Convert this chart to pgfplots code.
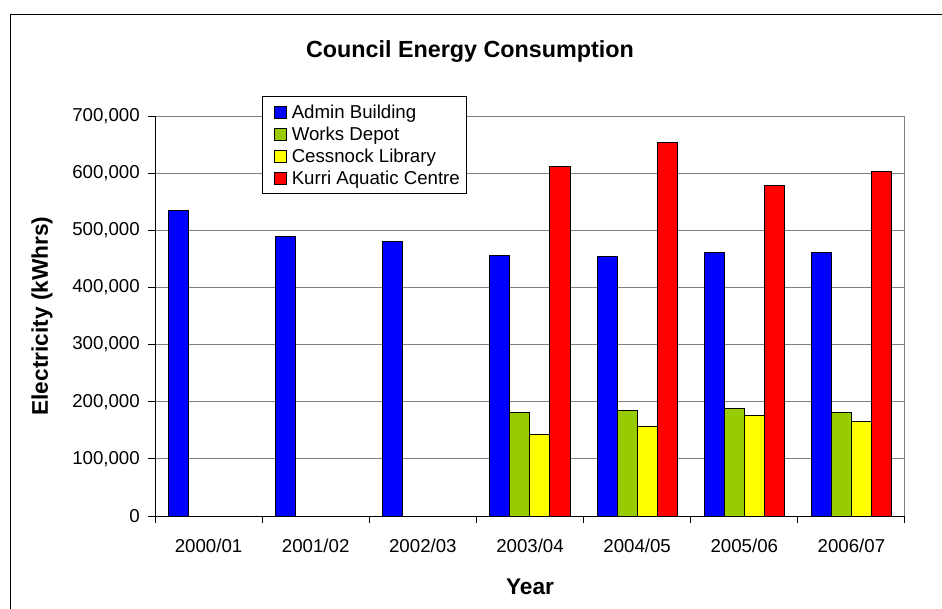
\documentclass[border=0pt]{standalone}
\usepackage{fontspec}
\setmainfont{Liberation Sans}
\usepackage{pgfplots}
\pgfplotsset{compat=1.18}

\definecolor{adminblue}{RGB}{0,0,255}
\definecolor{worksgreen}{RGB}{153,204,0}
\definecolor{libyellow}{RGB}{255,255,0}
\definecolor{kurrired}{RGB}{255,0,0}
\definecolor{gridgray}{RGB}{128,128,128}

\begin{document}
\begin{tikzpicture}
\path[use as bounding box] (0,0) rectangle (706.5pt,-456.75pt);
\draw[black, line width=0.75pt] (7.5pt,-470pt) -- (7.5pt,-11.25pt) -- (720pt,-11.25pt);
\begin{axis}[
  at={(116.25pt,-387pt)}, anchor=south west,
  width=562.5pt, height=300pt, scale only axis,
  ybar=0pt, bar width=15pt,
  xmin=-0.5, xmax=6.5, ymin=0, ymax=700000,
  xtick={0,...,6},
  xticklabels={2000/01,2001/02,2002/03,2003/04,2004/05,2005/06,2006/07},
  minor xtick={-0.5,0.5,...,6.5},
  ytick={0,100000,...,700000},
  scaled y ticks=false,
  /pgf/number format/.cd, fixed, 1000 sep={,}, assume math mode=true, /pgfplots/.cd,
  ymajorgrids,
  grid style={gridgray, line width=0.75pt},
  axis line style={gridgray, line width=0.75pt},
  tick align=outside, tick pos=left,
  major tick length=5.25pt, minor tick length=5.25pt,
  tick style={black, line width=0.75pt},
  major x tick style={draw=none},
  tick label style={font=\fontsize{14}{16.8}\selectfont},
  yticklabel style={inner sep=0pt, xshift=-6pt},
  xticklabel style={inner sep=0pt, yshift=-12pt},
  title={Council Energy Consumption},
  title style={at={(0.42,1.14)}, anchor=center, font=\fontsize{17.5}{21}\selectfont\bfseries},
  xlabel={Year},
  xlabel style={at={(0.5,-0.1775)}, anchor=center, font=\fontsize{17}{20}\selectfont\bfseries},
  ylabel={Electricity (kWhrs)},
  ylabel style={at={(-0.1507,0.5)}, anchor=center, font=\fontsize{17}{20}\selectfont\bfseries},
  legend image code/.code={\path (0pt,0pt) (16pt,0pt);
    \draw[#1, draw=black, line width=0.6pt] (5.5pt,-4.25pt) rectangle (14pt,4.25pt);},
  legend style={at={(0.143,1.049)}, anchor=north west, draw=black, line width=0.75pt, fill=white,
    font=\fontsize{14}{16.8}\selectfont, row sep=0.9pt, inner xsep=3pt, inner ysep=3.7pt,
    cells={anchor=west}},
  legend cell align=left,
]
\addplot[fill=adminblue, draw=black, line width=0.75pt] coordinates {
  (0,535000) (1,489000) (2,481000) (3,456000) (4,454000) (5,461000) (6,461000)};
\addlegendentry{Admin Building}
\addplot[fill=worksgreen, draw=black, line width=0.75pt] coordinates {
  (3,182000) (4,184000) (5,189000) (6,182000)};
\addlegendentry{Works Depot}
\addplot[fill=libyellow, draw=black, line width=0.75pt] coordinates {
  (3,143000) (4,157000) (5,176000) (6,165000)};
\addlegendentry{Cessnock Library}
\addplot[fill=kurrired, draw=black, line width=0.75pt] coordinates {
  (3,611000) (4,654000) (5,578000) (6,603000)};
\addlegendentry{Kurri Aquatic Centre}
\draw[black, line width=0.75pt] (rel axis cs:0,1) -- (rel axis cs:0,0) -- (rel axis cs:1,0);
\end{axis}
\end{tikzpicture}
\end{document}
